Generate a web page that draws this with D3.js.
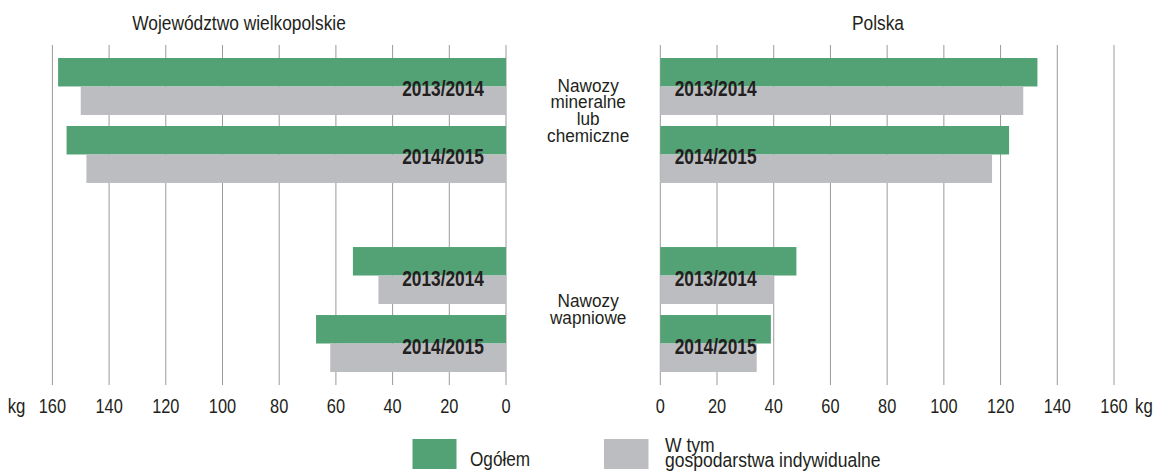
<!DOCTYPE html>
<html>
<head>
<meta charset="utf-8">
<script src="https://cdn.jsdelivr.net/npm/d3@7"></script>
<style>
  html, body { margin: 0; padding: 0; background: #ffffff; }
  svg { display: block; }
  text { font-family: "Liberation Sans", Arial, Helvetica, sans-serif; fill: #231f20; }
</style>
</head>
<body>
<svg id="chart" width="1157" height="473"></svg>
<script>
// ---- data ----
const categories = ["Nawozy mineralne lub chemiczne", "Nawozy wapniowe"];
const categoryLines = [["Nawozy", "mineralne", "lub", "chemiczne"], ["Nawozy", "wapniowe"]];
const years = ["2013/2014", "2014/2015"];
const panelTitles = ["Województwo wielkopolskie", "Polska"];
// order: [mineralne 13/14, mineralne 14/15, wapniowe 13/14, wapniowe 14/15]
const wlkpOgolem = [158, 155, 54, 67];
const wlkpIndywidualne = [150, 148, 45, 62];
const polskaOgolem = [133, 123, 48, 39];
const polskaIndywidualne = [128, 117, 40, 34];
const tickValues = [0, 20, 40, 60, 80, 100, 120, 140, 160];
const unitLabel = "kg";
const seriesNames = ["Ogółem", "W tym\ngospodarstwa indywidualne"];

// ---- style ----
const GREEN = "#53a275";
const GRAY = "#bcbdc1";
const GRID = "#9a9a9a";

const svg = d3.select("#chart");

// condensed text helper: text placed at (x,y) and squeezed horizontally
function ctext(parent, x, y, str, size, sx, anchor, weight) {
  return parent.append("text")
    .attr("transform", `translate(${x},${y}) scale(${sx},1)`)
    .attr("text-anchor", anchor || "start")
    .attr("font-size", size)
    .attr("font-weight", weight || "normal")
    .text(str);
}

const xLeft = d3.scaleLinear().domain([0, 160]).range([506, 52.4]);
const xRight = d3.scaleLinear().domain([0, 160]).range([660.3, 1114]);

const yGroup = d3.scaleBand().domain(categories).range([58, 372]).paddingInner(0.339);
const yYear = d3.scaleBand().domain(years).range([0, yGroup.bandwidth()]).paddingInner(0.162);

const rows = [];
categories.forEach((c, ci) => years.forEach((y, yi) => {
  const i = ci * years.length + yi;
  rows.push({cat: c, year: y, i,
    wO: wlkpOgolem[i], wI: wlkpIndywidualne[i],
    pO: polskaOgolem[i], pI: polskaIndywidualne[i]});
}));
const rowTop = d => yGroup(d.cat) + yYear(d.year);
const half = yYear.bandwidth() / 2;

const gridTop = 45, gridBottom = 385;

// grid lines
[xLeft, xRight].forEach(x => {
  svg.append("g").selectAll("line").data(tickValues).join("line")
    .attr("x1", d => x(d)).attr("x2", d => x(d))
    .attr("y1", gridTop).attr("y2", gridBottom)
    .attr("stroke", GRID).attr("stroke-width", 1);
});

// bars
function drawPanel(x, keyO, keyI, labelSide) {
  const g = svg.append("g");
  g.selectAll("rect.o").data(rows).join("rect").attr("class", "o")
    .attr("x", d => Math.min(x(0), x(d[keyO])))
    .attr("width", d => Math.abs(x(d[keyO]) - x(0)))
    .attr("y", d => rowTop(d)).attr("height", half)
    .attr("fill", GREEN);
  g.selectAll("rect.i").data(rows).join("rect").attr("class", "i")
    .attr("x", d => Math.min(x(0), x(d[keyI])))
    .attr("width", d => Math.abs(x(d[keyI]) - x(0)))
    .attr("y", d => rowTop(d) + half).attr("height", half)
    .attr("fill", GRAY);
  rows.forEach(d => {
    const lx = labelSide === "left" ? x(0) - 22 : x(0) + 14.4;
    ctext(g, lx, rowTop(d) + half + 10, d.year, 22.5, 0.77,
      labelSide === "left" ? "end" : "start", "bold");
  });
}
drawPanel(xLeft, "wO", "wI", "left");
drawPanel(xRight, "pO", "pI", "right");

// tick labels
[xLeft, xRight].forEach(x => {
  const g = svg.append("g");
  tickValues.forEach(v => ctext(g, x(v), 413.3, String(v), 21, 0.78, "middle"));
});
ctext(svg, xLeft(160) - 27, 413.3, unitLabel, 21, 0.8, "end");
ctext(svg, xRight(160) + 21, 413.3, unitLabel, 21, 0.8, "start");

// panel titles
ctext(svg, 239, 30, panelTitles[0], 19.5, 0.89, "middle");
ctext(svg, 878, 30, panelTitles[1], 19.5, 0.89, "middle");

// category labels in the middle
const cx = (xLeft(0) + xRight(0)) / 2 + 5;
const centerShift = [-10.5, -1];
const lh = 16.7, cap = 13.4;
categories.forEach((c, ci) => {
  const lines = categoryLines[ci];
  const center = yGroup(c) + yGroup.bandwidth() / 2 + centerShift[ci];
  const firstBase = center - ((lines.length - 1) * lh + cap) / 2 + cap;
  const t = svg.append("text")
    .attr("transform", `translate(${cx},0) scale(0.92,1)`)
    .attr("text-anchor", "middle").attr("font-size", 18.7);
  lines.forEach((ln, li) => {
    t.append("tspan").attr("x", 0).attr("y", firstBase + li * lh).text(ln);
  });
});

// legend
const lg = svg.append("g");
lg.append("rect").attr("x", 412.5).attr("y", 439).attr("width", 44).attr("height", 30).attr("fill", GREEN);
ctext(lg, 470, 465.7, seriesNames[0], 20, 0.86, "start");
lg.append("rect").attr("x", 604).attr("y", 439).attr("width", 44.5).attr("height", 30).attr("fill", GRAY);
const l2 = lg.append("text")
  .attr("transform", "translate(665,0) scale(0.9,1)")
  .attr("font-size", 19.5);
seriesNames[1].split("\n").forEach((ln, i) => {
  l2.append("tspan").attr("x", 0).attr("y", 452 + i * 15).text(ln);
});
</script>
</body>
</html>
